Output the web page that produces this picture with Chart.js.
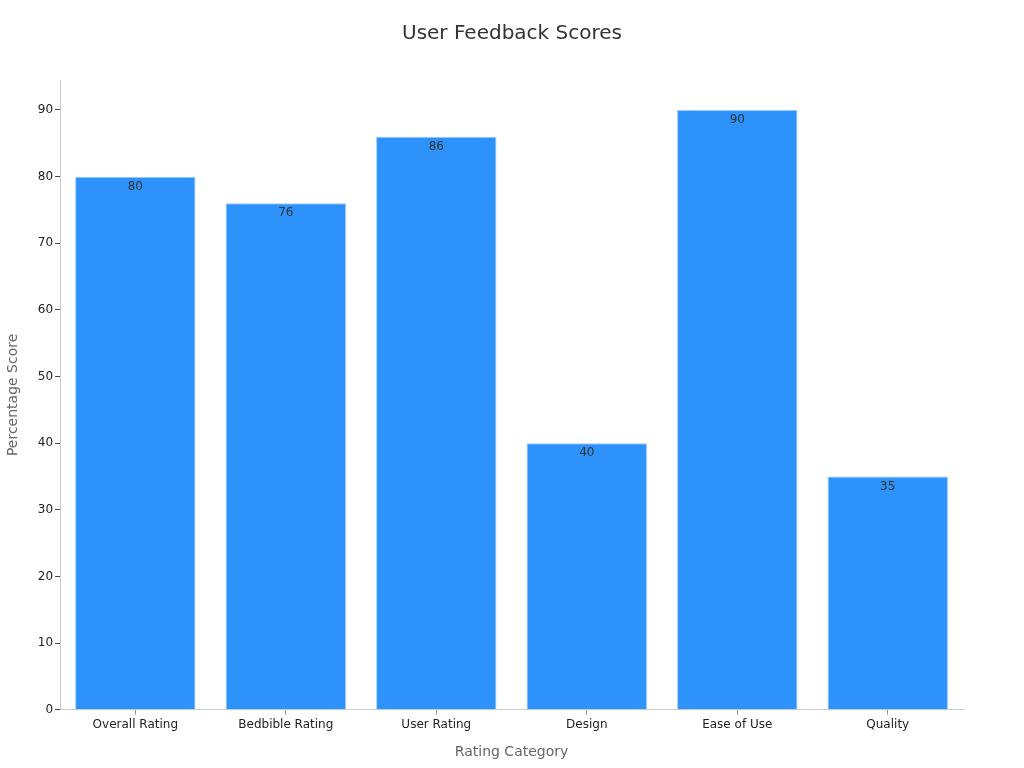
<!DOCTYPE html>
<html>
<head>
<meta charset="utf-8">
<script src="https://cdn.jsdelivr.net/npm/chart.js@4"></script>
<style>
  body { margin: 0; background: #fff; }
  #wrap { width: 1024px; height: 768px; }
</style>
</head>
<body>
<div id="wrap"><canvas id="myChart" width="1024" height="768"></canvas></div>
<script>
// chart data
var categories = ['Overall Rating', 'Bedbible Rating', 'User Rating', 'Design', 'Ease of Use', 'Quality'];
var scores = [80, 76, 86, 40, 90, 35];
var yTicks = [0, 10, 20, 30, 40, 50, 60, 70, 80, 90];
var chartTitle = 'User Feedback Scores';

Chart.defaults.font.family = 'DejaVu Sans';

// draws the value just under the top of each bar, and the title centred on the page
var barLabels = {
    id: 'barLabels',
    afterDatasetsDraw: function(chart) {
        var ctx = chart.ctx;
        var meta = chart.getDatasetMeta(0);
        ctx.save();
        ctx.font = '12px DejaVu Sans';
        ctx.fillStyle = '#333';
        ctx.textAlign = 'center';
        ctx.textBaseline = 'middle';
        meta.data.forEach(function(bar, i) {
            ctx.fillText(chart.data.datasets[0].data[i], bar.x, bar.y + 10);
        });
        ctx.font = '20px DejaVu Sans';
        ctx.fillText(chartTitle, chart.width / 2, 34);
        ctx.restore();
    }
};

var ctx = document.getElementById('myChart').getContext('2d');
var myChart = new Chart(ctx, {
    type: 'bar',
    data: {
        labels: categories,
        datasets: [{
            label: 'Score',
            data: scores,
            backgroundColor: 'rgb(45, 146, 250)',
            borderColor: 'rgb(150, 200, 250)',
            borderWidth: 1,
            barPercentage: 0.8,
            categoryPercentage: 1.0
        }]
    },
    options: {
        responsive: false,
        animation: false,
        layout: { padding: { left: 1, right: 61, top: 80, bottom: 3 } },
        plugins: {
            legend: { display: false },
            tooltip: { enabled: false },
            title: { display: false }
        },
        scales: {
            x: {
                grid: { drawOnChartArea: false, offset: false, color: '#999', tickLength: 5 },
                border: { color: '#ccc' },
                ticks: { color: '#222', font: { size: 12 }, padding: 3 },
                title: {
                    display: true,
                    text: 'Rating Category',
                    color: '#666',
                    font: { size: 14 },
                    padding: { top: 9 }
                }
            },
            y: {
                min: 0,
                max: 94.5,
                afterBuildTicks: function(axis) {
                    axis.ticks = yTicks.map(function(v) { return { value: v }; });
                },
                grid: { drawOnChartArea: false, color: '#444', tickLength: 5 },
                border: { color: '#ccc' },
                ticks: { color: '#222', font: { size: 12 }, padding: 2 },
                title: {
                    display: true,
                    text: 'Percentage Score',
                    color: '#666',
                    font: { size: 14 },
                    padding: { bottom: 14 }
                }
            }
        }
    },
    plugins: [barLabels]
});
</script>
</body>
</html>
